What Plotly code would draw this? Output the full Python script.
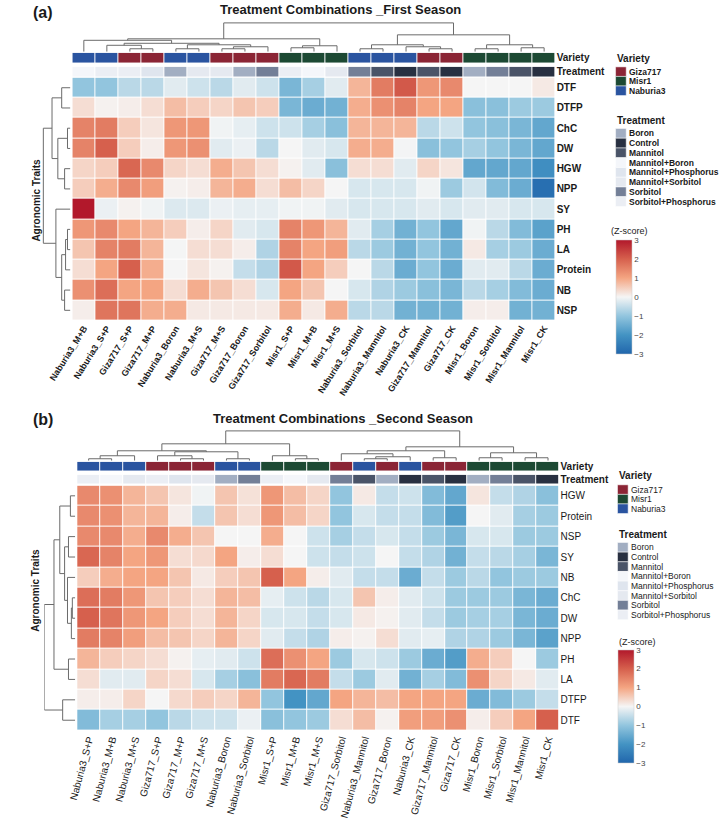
import plotly.graph_objects as go

W, H = 719, 819
def fx(p): return p / W
def fy(p): return 1 - p / H

FONT = "Liberation Sans, Arial, sans-serif"

# ---------------- data ----------------
varieties = ['Giza717', 'Misr1', 'Naburia3']
variety_colors = ['#8B2535', '#1C4933', '#2A54A0']
treatments = ['Boron', 'Control', 'Mannitol', 'Mannitol+Boron', 'Mannitol+Phosphorus',
              'Mannitol+Sorbitol', 'Sorbitol', 'Sorbitol+Phosphorus']
treatment_colors = ['#A2AEC2', '#283041', '#4A5468', '#F4F6FA', '#DFE5EE', '#E5E9F0', '#737F97', '#EBEEF4']
treatment_codes = {'Boron': 'Boron', 'CK': 'Control', 'Mannitol': 'Mannitol', 'M+B': 'Mannitol+Boron',
                   'M+P': 'Mannitol+Phosphorus', 'M+S': 'Mannitol+Sorbitol', 'Sorbitol': 'Sorbitol',
                   'S+P': 'Sorbitol+Phosphorus'}

zscore_ticks = [3, 2, 1, 0, -1, -2, -3]
heat_colors = [[0.0, '#2166AC'], [0.1667, '#4393C3'], [0.3333, '#92C5DE'], [0.5, '#F5F5F5'],
               [0.6667, '#F4A582'], [0.8333, '#D6604D'], [1.0, '#B2182B']]

# ----- First season -----
cols_a = ['Naburia3_M+B', 'Naburia3_S+P', 'Giza717_S+P', 'Giza717_M+P', 'Naburia3_Boron', 'Naburia3_M+S',
          'Giza717_M+S', 'Giza717_Boron', 'Giza717_Sorbitol', 'Misr1_S+P', 'Misr1_M+B', 'Misr1_M+S',
          'Naburia3_Sorbitol', 'Naburia3_Mannitol', 'Naburia3_CK', 'Giza717_Mannitol', 'Giza717_CK',
          'Misr1_Boron', 'Misr1_Sorbitol', 'Misr1_Mannitol', 'Misr1_CK']
rows_a = ['DTF', 'DTFP', 'ChC', 'DW', 'HGW', 'NPP', 'SY', 'PH', 'LA', 'Protein', 'NB', 'NSP']
DTF_a = [-1.0, -1.0, -0.6, -0.6, -0.2, -0.4, -0.6, -0.2, -0.4, -1.3, -0.8, -0.2, 0.8, 1.6, 2.1, 1.2, 1.4, 0.0, 0.0, 0.0, 0.15]
DTFP_a = [0.3, 0.05, 0.1, 0.3, 0.7, 0.5, 0.4, 0.6, 0.5, -1.3, -1.5, -1.4, 0.9, 1.3, 1.5, 1.0, 1.0, -1.1, -1.1, -0.9, -0.9]
ChC_a = [1.5, 1.6, 0.5, 0.2, 1.2, 1.2, -0.05, -0.15, -0.4, -0.4, -0.8, -1.1, 0.8, 0.8, 0.8, -0.6, -0.4, -1.0, -1.1, -1.3, -1.6]
DW_a = [1.5, 2.0, 0.5, 0.1, 1.2, 1.3, -0.2, -0.1, -0.6, 0.0, -0.2, -0.3, 0.9, 0.9, -0.02, -1.1, -1.0, -0.8, -1.0, -1.3, -1.6]
HGW_a = [0.4, 0.5, 1.9, 1.4, 0.4, 0.3, 0.9, 0.6, 0.3, 0.05, -0.2, -1.1, 0.3, 0.3, -0.2, 0.4, 0.2, -1.6, -1.6, -1.6, -2.1]
NPP_a = [0.5, 0.9, 1.4, 1.1, 0.05, 0.1, 0.8, 0.9, 0.3, 0.7, 0.4, 0.0, -0.3, -0.3, -0.3, -0.05, -0.9, -0.35, -1.2, -1.5, -2.8]
SY_a = [3.0, -0.1, 0.05, -0.05, -0.25, -0.25, -0.1, -0.15, -0.15, -0.05, -0.05, -0.2, -0.3, -0.3, -0.3, -0.2, -0.3, -0.2, -0.2, -0.3, -0.3]
PH_a = [1.2, 1.4, 1.0, 0.8, 0.5, 0.1, 0.4, -0.2, -0.3, 1.5, 1.2, 0.8, -0.2, -0.8, -1.4, -1.0, -1.6, -0.05, -0.6, -1.2, -1.7]
LA_a = [0.6, 1.5, 1.6, 0.8, -0.01, 0.3, 0.3, 0.1, -0.7, 1.5, 1.0, 1.1, -0.6, -0.9, -1.4, -1.0, -1.4, 0.15, -0.8, -0.9, -1.5]
Protein_a = [0.3, 1.0, 2.0, 0.9, 0.0, 0.2, 0.05, -0.5, -0.7, 2.1, 1.0, 0.5, 0.0, -0.6, -1.5, -1.0, -1.5, -0.2, -0.2, -0.6, -1.5]
NB_a = [1.3, 1.8, 1.0, 1.0, 0.3, 0.9, 0.6, 0.3, -0.3, 1.0, 0.6, 0.0, -0.3, -0.7, -0.9, -1.1, -1.3, -0.6, -0.8, -1.2, -1.5]
NSP_a = [0.1, 1.7, 1.7, 0.9, 0.9, 0.15, 0.15, 0.15, 0.15, 0.9, 0.15, 0.9, -0.6, -0.6, -1.4, -1.4, -1.4, 0.1, 0.1, -1.4, -1.4]
z_a = [DTF_a, DTFP_a, ChC_a, DW_a, HGW_a, NPP_a, SY_a, PH_a, LA_a, Protein_a, NB_a, NSP_a]

# dendrogram trees: [left, right, merge height]; leaves = display index
col_tree_a = [[[0, [[1, [2, 3, 3], 6.5], [[4, 5, 3], [[6, 7, 3], 8, 5], 7], 8.5], 11.5],
               [[9, 10, 4], 11, 6], 13],
              [[[12, 13, 3], [14, [15, 16, 3], 5], 7], [[17, 18, 3], [19, 20, 4], 7], 17], 29]
row_tree_a = [[[0, 1, 9], [[2, 3, 3], [4, 5, 6], 13], 19],
              [6, [[[7, 8, 3], 9, 5], [10, 11, 6], 9], 15], 28]

# ----- Second season -----
cols_b = ['Naburia3_S+P', 'Naburia3_M+B', 'Naburia3_M+S', 'Giza717_S+P', 'Giza717_M+P', 'Giza717_M+S',
          'Naburia3_Boron', 'Naburia3_Sorbitol', 'Misr1_S+P', 'Misr1_M+B', 'Misr1_M+S', 'Giza717_Sorbitol',
          'Naburia3_Mannitol', 'Giza717_Boron', 'Naburia3_CK', 'Giza717_Mannitol', 'Giza717_CK',
          'Misr1_Boron', 'Misr1_Sorbitol', 'Misr1_Mannitol', 'Misr1_CK']
rows_b = ['HGW', 'Protein', 'NSP', 'SY', 'NB', 'ChC', 'DW', 'NPP', 'PH', 'LA', 'DTFP', 'DTF']
HGW_b = [1.4, 1.3, 0.8, 0.6, 0.2, -0.05, 0.6, 0.25, 1.2, 0.7, 0.4, -1.0, 0.15, -0.5, -0.4, -1.2, -1.6, 0.2, -0.5, -0.7, -1.1]
Protein_b = [1.4, 1.3, 0.8, 0.8, 0.1, -0.5, 0.6, 0.3, 1.2, 0.7, 0.4, -1.0, -0.3, -0.5, -0.5, -1.2, -1.8, 0.0, -0.2, -0.8, -0.9]
NSP_b = [1.4, 1.4, 0.9, 1.4, 0.9, 0.6, 0.0, 0.0, 0.9, 0.0, -0.4, -0.8, -0.5, -0.3, -0.5, -0.9, -1.3, -0.3, -0.3, -0.9, -0.9]
SY_b = [1.9, 1.5, 1.0, 1.2, 0.3, 0.35, 1.0, 0.1, 0.3, 0.0, -0.4, -0.5, -0.4, 0.0, -0.5, -0.7, -1.4, -0.5, -0.6, -0.8, -1.3]
NB_b = [0.5, 0.9, 1.0, 1.0, 0.6, 0.15, 0.5, 0.6, 2.0, 1.0, 0.1, -0.2, -0.5, -0.5, -1.5, -0.5, -0.9, -0.6, -1.0, -0.9, -0.9]
ChC_b = [1.8, 1.6, 1.2, 0.6, 0.5, 0.3, 0.8, 0.7, -0.15, -0.4, -0.6, -0.3, 0.6, 0.1, -0.2, -0.4, -0.9, -0.9, -0.9, -1.3, -1.5]
DW_b = [2.0, 1.7, 1.2, 1.0, 0.5, 0.3, 0.8, 0.4, -0.3, -0.3, -0.5, -0.3, 0.15, 0.05, -0.2, -0.5, -0.9, -0.8, -0.8, -1.3, -1.5]
NPP_b = [1.6, 1.5, 1.1, 0.7, 0.6, 0.4, 0.8, 0.4, -0.2, -0.5, -0.7, 0.1, 0.05, 0.3, -0.2, -0.15, -0.7, -0.7, -0.9, -1.3, -1.7]
PH_b = [0.8, 0.5, 0.4, 0.3, 0.05, -0.15, -0.2, -0.4, 1.8, 1.3, 1.0, -0.9, -0.3, -0.4, -0.9, -1.5, -1.8, 0.9, 0.5, 0.0, -0.9]
LA_b = [0.3, -0.2, -0.2, 0.4, 0.3, -0.3, -0.8, -1.1, 1.6, 1.9, 1.6, -0.5, -0.9, -0.2, -1.4, -0.8, -1.2, 1.3, 0.4, 0.15, -0.2]
DTFP_b = [0.1, 0.1, 0.4, 0.0, 0.35, 0.5, 0.4, 0.8, -1.0, -2.0, -1.6, 1.0, 0.8, 0.7, 1.0, 1.0, 1.0, -1.5, -1.2, -0.9, -0.5]
DTF_b = [-1.2, -0.8, -0.8, -1.0, -0.6, -0.4, -0.4, -0.1, -1.1, -1.0, -0.9, 0.3, 0.7, 0.05, 1.1, 1.1, 1.3, 0.1, 0.5, 1.0, 2.0]
z_b = [HGW_b, Protein_b, NSP_b, SY_b, NB_b, ChC_b, DW_b, NPP_b, PH_b, LA_b, DTFP_b, DTF_b]

col_tree_b = [[[[[0, 1, 2], 2, 5], [[3, [4, 5, 2], 5], [6, 7, 2], 9], 10], [8, [9, 10, 2], 5], 17],
              [[[11, [[12, 13, 2], 14, 4], 7], [15, 16, 3], 10], [[17, 18, 3], [19, 20, 3], 8], 14], 30]
row_tree_b = [[[[0, 1, 5], [[2, 3, 7], [4, [[5, 6, 3], 7, 4], 8], 11], 16], [8, 9, 7], 22],
              [10, 11, 13], 32]

# ---------------- helpers ----------------
def axid(i):
    return ('x' if i == 1 else f'x{i}'), ('y' if i == 1 else f'y{i}')

def layid(i):
    return ('xaxis' if i == 1 else f'xaxis{i}'), ('yaxis' if i == 1 else f'yaxis{i}')

def discrete(colors):
    n = len(colors)
    cs = []
    for i, c in enumerate(colors):
        cs += [[i / n, c], [(i + 1) / n, c]]
    return cs

def dendro_xy(tree):
    pos, hts = [], []
    def rec(node):
        if isinstance(node, int):
            return float(node), 0.0
        l, r, h = node
        pl, hl = rec(l)
        pr, hr = rec(r)
        pos.extend([pl, pl, pr, pr, None])
        hts.extend([hl, h, h, hr, None])
        return (pl + pr) / 2, h
    rec(tree)
    return pos, hts

HIDDEN = dict(showgrid=False, zeroline=False, showline=False, showticklabels=False, ticks='')

fig = go.Figure()

def add_panel(base, cols, rows, z, ctree, rtree, g, cax, bold):
    n, m = len(cols), len(rows)
    fw = 'bold' if bold else 'normal'
    xr = [-0.5, n - 0.5]
    yr = [m - 0.5, -0.5]
    hm, cd, vb, tb, rd = base, base + 1, base + 2, base + 3, base + 4
    xdom = [fx(g['hx'][0]), fx(g['hx'][1])]

    # main heatmap
    xa, ya = axid(hm)
    fig.add_trace(go.Heatmap(z=z, x=list(range(n)), y=list(range(m)), coloraxis=cax,
                             xgap=1, ygap=1, xaxis=xa, yaxis=ya))
    lx, ly = layid(hm)
    fig.update_layout(**{
        lx: dict(domain=xdom, range=xr, tickvals=list(range(n)), ticktext=cols, tickangle=g['angle'],
                 tickfont=dict(size=g['cfs'], color='#1a1a1a', weight=fw, family=FONT),
                 showgrid=False, zeroline=False, showline=False, ticks='', anchor=ya),
        ly: dict(domain=[fy(g['hy'][1]), fy(g['hy'][0])], range=yr, tickvals=list(range(m)),
                 ticktext=rows, side='right', tickfont=dict(size=10, color='#1a1a1a', weight=fw, family=FONT),
                 showgrid=False, zeroline=False, showline=False, ticks='', anchor=xa)})

    # column dendrogram
    xa, ya = axid(cd)
    p, h = dendro_xy(ctree)
    fig.add_trace(go.Scatter(x=p, y=h, mode='lines', line=dict(color='#6b6b6b', width=1),
                             hoverinfo='skip', xaxis=xa, yaxis=ya, showlegend=False))
    lx, ly = layid(cd)
    fig.update_layout(**{lx: dict(domain=xdom, range=xr, anchor=ya, **HIDDEN),
                         ly: dict(domain=[fy(g['cy'][1]), fy(g['cy'][0])], range=[0, g['cmax']], anchor=xa, **HIDDEN)})

    # annotation bars
    vidx = [varieties.index(c.split('_')[0]) for c in cols]
    tidx = [treatments.index(treatment_codes[c.split('_', 1)[1]]) for c in cols]
    for bid, idx, pal, lab, key in [(vb, vidx, variety_colors, 'Variety', 'vy'),
                                    (tb, tidx, treatment_colors, 'Treatment', 'ty')]:
        xa, ya = axid(bid)
        fig.add_trace(go.Heatmap(z=[idx], x=list(range(n)), y=[0], colorscale=discrete(pal),
                                 zmin=-0.5, zmax=len(pal) - 0.5, showscale=False, xgap=1,
                                 xaxis=xa, yaxis=ya, hoverinfo='skip'))
        lx, ly = layid(bid)
        fig.update_layout(**{
            lx: dict(domain=xdom, range=xr, anchor=ya, **HIDDEN),
            ly: dict(domain=[fy(g[key][1]), fy(g[key][0])], range=[-0.5, 0.5], tickvals=[0], ticktext=[lab],
                     side='right', tickfont=dict(size=10, color='#1a1a1a', weight='bold', family=FONT),
                     showgrid=False, zeroline=False, showline=False, ticks='', anchor=xa)})

    # row dendrogram
    xa, ya = axid(rd)
    p, h = dendro_xy(rtree)
    fig.add_trace(go.Scatter(x=h, y=p, mode='lines', line=dict(color='#6b6b6b', width=1),
                             hoverinfo='skip', xaxis=xa, yaxis=ya, showlegend=False))
    lx, ly = layid(rd)
    fig.update_layout(**{lx: dict(domain=[fx(g['rx'][0]), fx(g['rx'][1])], range=[g['rmax'], 0], anchor=ya, **HIDDEN),
                         ly: dict(domain=[fy(g['hy'][1]), fy(g['hy'][0])], range=yr, anchor=xa, **HIDDEN)})


geo_a = dict(hx=(50, 550), hy=(77, 321), vy=(52, 62), ty=(66, 76), cy=(21, 51), cmax=30,
             rx=(18, 48), rmax=30, angle=-58, cfs=9)
geo_b = dict(hx=(55, 554), hy=(487, 733), vy=(463, 472), ty=(476, 485), cy=(431, 462), cmax=31,
             rx=(21, 53), rmax=32, angle=-75, cfs=10)

add_panel(1, cols_a, rows_a, z_a, col_tree_a, row_tree_a, geo_a, 'coloraxis', True)
add_panel(6, cols_b, rows_b, z_b, col_tree_b, row_tree_b, geo_b, 'coloraxis2', False)

def cbar(x, ytop, length):
    return dict(x=fx(x), xanchor='left', y=fy(ytop), yanchor='top', len=length, lenmode='pixels',
                thickness=16, thicknessmode='pixels', xpad=0, ypad=0, outlinewidth=0.5, outlinecolor='#cccccc',
                tickvals=zscore_ticks, ticks='', tickfont=dict(size=8, color='#444444', family=FONT))

fig.update_layout(
    coloraxis=dict(colorscale=heat_colors, cmin=-3, cmax=3, colorbar=cbar(612, 240, 114)),
    coloraxis2=dict(colorscale=heat_colors, cmin=-3, cmax=3, colorbar=cbar(615, 652, 113)),
)

# ---------------- annotations / legends ----------------
ann = []
shapes = []

def text(x, y, s, size=10, bold=False, xanchor='left', angle=0, color='#1a1a1a'):
    ann.append(dict(x=fx(x), y=fy(y), xref='paper', yref='paper', text=s, showarrow=False,
                    xanchor=xanchor, yanchor='middle', textangle=angle, borderpad=0,
                    font=dict(size=size, color=color, family=FONT, weight='bold' if bold else 'normal')))

text(8, 12, '(a)', size=16, bold=True)
text(327, 9, 'Treatment Combinations _First Season', size=13, bold=True, xanchor='center')
text(12, 200, 'Agronomic Traits', size=10, bold=True, xanchor='center', angle=-90)
text(8, 421, '(b)', size=16, bold=True)
text(330, 420, 'Treatment Combinations _Second Season', size=13, bold=True, xanchor='center')
text(12, 592, 'Agronomic Traits', size=10, bold=True, xanchor='center', angle=-90)

def legend_block(x0, ytitle, yfirst, step, title, names, colors, bold):
    text(x0, ytitle, title, size=10, bold=True)
    for i, (nm, c) in enumerate(zip(names, colors)):
        yc = yfirst + i * step
        shapes.append(dict(type='rect', xref='paper', yref='paper', x0=fx(x0), x1=fx(x0 + 11),
                           y0=fy(yc + step / 2), y1=fy(yc - step / 2), fillcolor=c,
                           line=dict(width=0.5, color='#ffffff')))
        text(x0 + 13, yc, nm, size=8.5, bold=bold)

legend_block(612, 58, 71, 9.6, 'Variety', varieties, variety_colors, True)
legend_block(612, 120, 133, 9.8, 'Treatment', treatments, treatment_colors, True)
text(606, 231, '(Z-score)', size=9)
legend_block(614, 477, 491, 9.6, 'Variety', varieties, variety_colors, False)
legend_block(614, 536, 549, 9.7, 'Treatment', treatments, treatment_colors, False)
text(615, 644, '(Z-score)', size=9)

fig.update_layout(width=W, height=H, margin=dict(l=0, r=0, t=0, b=0), paper_bgcolor='white',
                  plot_bgcolor='white', font=dict(family=FONT), annotations=ann, shapes=shapes,
                  showlegend=False)

fig.write_html("out.html")
